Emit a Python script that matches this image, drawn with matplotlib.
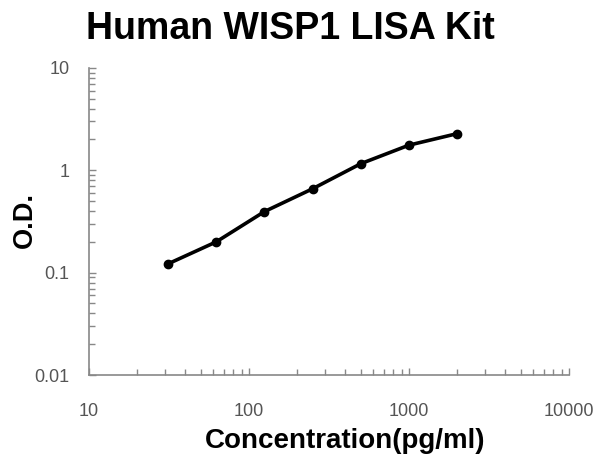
import matplotlib
matplotlib.use('Agg')
import matplotlib.pyplot as plt
from matplotlib.ticker import LogLocator, FixedLocator, NullFormatter

plt.rcParams['font.family'] = ['Liberation Sans', 'DejaVu Sans']

# standard curve data
conc = [31.25, 62.5, 125, 250, 500, 1000, 2000]
od = [0.122, 0.200, 0.395, 0.66, 1.16, 1.76, 2.28]
xticks = [10, 100, 1000, 10000]
yticks = [0.01, 0.1, 1, 10]

fig = plt.figure(figsize=(5.97, 4.59), dpi=100)
ax = fig.add_axes([0.149, 0.183, 0.804, 0.669])

ax.plot(conc, od, color='black', lw=2.6, marker='o', ms=6)
ax.set_xscale('log')
ax.set_yscale('log')
ax.set_xlim(10, 10000)
ax.set_ylim(0.01, 10)

ax.xaxis.set_major_locator(FixedLocator(xticks))
ax.yaxis.set_major_locator(FixedLocator(yticks))
ax.set_xticklabels(['10', '100', '1000', '10000'])
ax.set_yticklabels(['0.01', '0.1', '1', '10'])
ax.xaxis.set_minor_locator(LogLocator(base=10, subs=range(2, 10)))
ax.yaxis.set_minor_locator(LogLocator(base=10, subs=range(2, 10)))
ax.xaxis.set_minor_formatter(NullFormatter())
ax.yaxis.set_minor_formatter(NullFormatter())

for s in ['top', 'right']:
    ax.spines[s].set_visible(False)
for s in ['left', 'bottom']:
    ax.spines[s].set_color('#888888')
    ax.spines[s].set_linewidth(1.2)

ax.tick_params(which='both', direction='in', color='#888888', labelcolor='#555555',
               labelsize=13, length=5, width=1)
ax.tick_params(which='minor', length=4)
ax.tick_params(axis='x', pad=20)
ax.tick_params(axis='y', pad=14)

fig.text(0.578, 0.04, 'Concentration(pg/ml)', fontsize=20, fontweight='bold',
         ha='center', va='center')
fig.text(0.042, 0.521, 'O.D.', fontsize=19.5, fontweight='bold',
         ha='center', va='center', rotation=90)
fig.text(0.486, 0.915, 'Human WISP1 LISA Kit', fontsize=27, fontweight='bold',
         ha='center', va='baseline')

fig.savefig('out.png', dpi=100)
